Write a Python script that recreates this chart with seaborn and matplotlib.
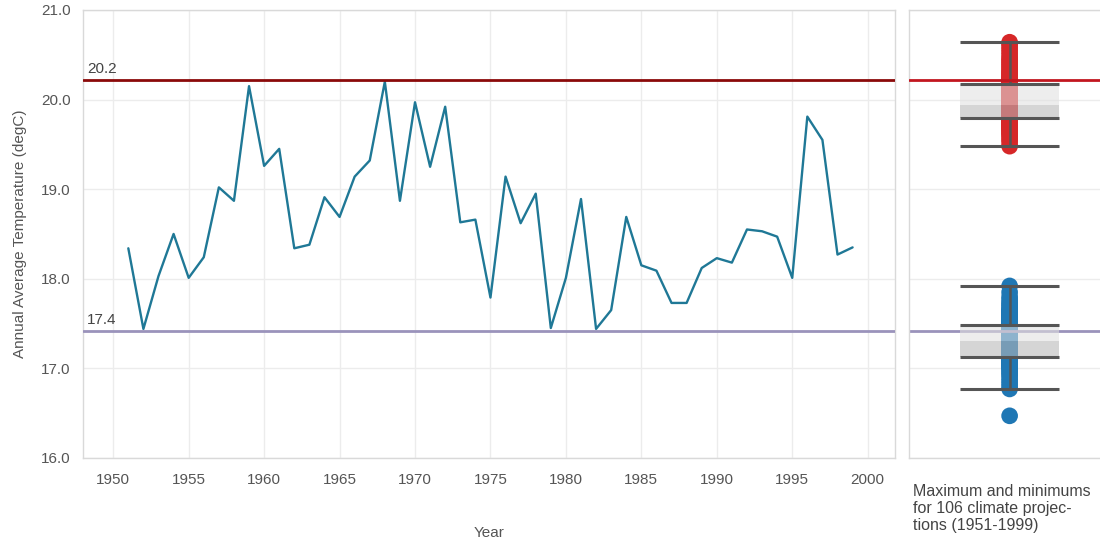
import numpy as np
import pandas as pd
import matplotlib
matplotlib.use("Agg")
import matplotlib.pyplot as plt
from matplotlib import cbook
import seaborn as sns

# Observed annual average temperature (degC)
years = list(range(1951, 2000))
temps = [
    18.34, 17.44, 18.03, 18.50, 18.01, 18.24, 19.02, 18.87, 20.15, 19.26,
    19.45, 18.34, 18.38, 18.91, 18.69, 19.14, 19.32, 20.20, 18.87, 19.97,
    19.25, 19.92, 18.63, 18.66, 17.79, 19.14, 18.62, 18.95, 17.45, 18.01,
    18.89, 17.44, 17.65, 18.69, 18.15, 18.09, 17.73, 17.73, 18.12, 18.23,
    18.18, 18.55, 18.53, 18.47, 18.01, 19.81, 19.55, 18.27, 18.35,
]

# Reference levels
upper_level = 20.22
lower_level = 17.42

# Maximum and minimum annual average of each of 106 climate projections
proj_max = [
    19.48, 19.52, 19.55, 19.57, 19.60, 19.61, 19.63, 19.64, 19.66, 19.67,
    19.68, 19.69, 19.70, 19.71, 19.72, 19.73, 19.73, 19.74, 19.75, 19.75,
    19.76, 19.77, 19.77, 19.78, 19.78, 19.79, 19.79,
    19.80, 19.81, 19.82, 19.83, 19.84, 19.85, 19.85, 19.86, 19.87, 19.88,
    19.88, 19.89, 19.89, 19.90, 19.90, 19.91, 19.91, 19.92, 19.92, 19.93,
    19.93, 19.93, 19.94, 19.94, 19.94, 19.94,
    19.94, 19.95, 19.97, 19.98, 19.99, 20.00, 20.01, 20.02, 20.03, 20.04,
    20.05, 20.06, 20.07, 20.08, 20.09, 20.10, 20.11, 20.12, 20.13, 20.13,
    20.14, 20.15, 20.15, 20.16, 20.16, 20.17,
    20.17, 20.18, 20.19, 20.20, 20.21, 20.22, 20.23, 20.24, 20.25, 20.27,
    20.28, 20.30, 20.31, 20.33, 20.35, 20.37, 20.39, 20.41, 20.43, 20.45,
    20.47, 20.50, 20.53, 20.56, 20.59, 20.62, 20.64,
]
proj_min = [
    16.47, 16.77, 16.80, 16.83, 16.86, 16.89, 16.92, 16.94, 16.96, 16.98,
    17.00, 17.01, 17.02, 17.03, 17.04, 17.05, 17.06, 17.07, 17.08, 17.08,
    17.09, 17.10, 17.10, 17.11, 17.11, 17.12, 17.12,
    17.13, 17.14, 17.15, 17.16, 17.17, 17.18, 17.19, 17.20, 17.21, 17.22,
    17.23, 17.23, 17.24, 17.25, 17.25, 17.26, 17.26, 17.27, 17.27, 17.28,
    17.28, 17.29, 17.29, 17.30, 17.30, 17.30,
    17.30, 17.31, 17.32, 17.33, 17.34, 17.35, 17.36, 17.37, 17.38, 17.39,
    17.40, 17.41, 17.42, 17.43, 17.43, 17.44, 17.44, 17.45, 17.45, 17.46,
    17.46, 17.47, 17.47, 17.47, 17.48, 17.48,
    17.48, 17.49, 17.50, 17.51, 17.52, 17.53, 17.54, 17.55, 17.56, 17.57,
    17.58, 17.59, 17.60, 17.61, 17.62, 17.63, 17.64, 17.65, 17.66, 17.68,
    17.70, 17.72, 17.74, 17.77, 17.80, 17.85, 17.92,
]

x_ticks = list(range(1950, 2001, 5))
y_ticks = [16.0, 17.0, 18.0, 19.0, 20.0, 21.0]

LINE = "#1f7896"
UPPER_DARK = "#8b0a0a"
UPPER_RIGHT = "#c2161f"
LOWER = "#9a93bb"
GRID = "#ececec"
SPINE = "#d9d9d9"
TEXT = "#555555"
BOXLINE = "#555555"

sns.set_theme(style="white")
plt.rcParams["font.family"] = ["Liberation Sans", "DejaVu Sans"]

fig = plt.figure(figsize=(11, 5.4), dpi=100)
ax = fig.add_axes([0.0755, 0.152, 0.738, 0.8295])
axr = fig.add_axes([0.8264, 0.152, 0.18, 0.8295])

# ---- main time series panel ----
obs = pd.DataFrame({"Year": years, "Temp": temps})
sns.lineplot(data=obs, x="Year", y="Temp", ax=ax, color=LINE, linewidth=1.7, zorder=3)

for level, col in [(upper_level, UPPER_DARK), (lower_level, LOWER)]:
    ax.axhline(level, color=col, linewidth=2.0, zorder=4)
    ax.annotate(f"{level:.1f}", xy=(0, level), xycoords=("axes fraction", "data"),
                xytext=(3, 3), textcoords="offset points", ha="left", va="bottom",
                fontsize=11, color="#444444")

ax.set_xlim(1948.0, 2001.8)
ax.set_ylim(16.0, 21.0)
ax.set_xticks(x_ticks)
ax.set_yticks(y_ticks)
ax.set_yticklabels([f"{v:.1f}" for v in y_ticks])
ax.grid(True, color=GRID, linewidth=1.0)
ax.set_axisbelow(True)
ax.tick_params(axis="both", colors=SPINE, labelcolor=TEXT, labelsize=11,
               length=5, width=1, direction="out", pad=4)
ax.tick_params(axis="x", pad=6)
ax.set_xlabel("Year", fontsize=11, color=TEXT, labelpad=28)
ax.set_ylabel("Annual Average Temperature (degC)", fontsize=11, color=TEXT, labelpad=10)
for s in ax.spines.values():
    s.set_color(SPINE)
    s.set_linewidth(1.0)

# ---- projection distribution panel ----
proj = pd.DataFrame({
    "grp": [""] * (len(proj_max) + len(proj_min)),
    "kind": ["max"] * len(proj_max) + ["min"] * len(proj_min),
    "Temp": proj_max + proj_min,
})
palette = {"max": "#d62728", "min": "#1f77b4"}

sns.stripplot(data=proj, x="grp", y="Temp", hue="kind", palette=palette,
              jitter=False, dodge=False, size=12, linewidth=0, alpha=1.0,
              legend=False, ax=axr, zorder=1)

# Two-tone box with whiskers (1.5 IQR), drawn over the points
half = 0.25
for vals in (proj_max, proj_min):
    st = cbook.boxplot_stats(np.asarray(vals), whis=1.5)[0]
    xs = [-half, half]
    axr.fill_between(xs, st["med"], st["q3"], color="#e0e0e0", alpha=0.58,
                     linewidth=0, zorder=3)
    axr.fill_between(xs, st["q1"], st["med"], color="#b8b8b8", alpha=0.58,
                     linewidth=0, zorder=3)
    axr.vlines(0, st["q3"], st["whishi"], color=BOXLINE, linewidth=1.8, zorder=4)
    axr.vlines(0, st["whislo"], st["q1"], color=BOXLINE, linewidth=1.8, zorder=4)
    axr.hlines([st["whislo"], st["q1"], st["q3"], st["whishi"]], -half, half,
               color=BOXLINE, linewidth=2.2, zorder=4)

axr.axhline(upper_level, color=UPPER_RIGHT, linewidth=2.0, zorder=5)
axr.axhline(lower_level, color=LOWER, linewidth=2.0, zorder=2)

axr.set_xlim(-0.508, 0.492)
axr.set_ylim(16.0, 21.0)
axr.set_yticks(y_ticks)
axr.set_yticklabels([])
axr.set_xticks([])
axr.set_xlabel("")
axr.set_ylabel("")
axr.grid(True, axis="y", color=GRID, linewidth=1.0)
axr.set_axisbelow(True)
axr.tick_params(axis="y", length=0)
for name, s in axr.spines.items():
    s.set_color(SPINE)
    s.set_linewidth(1.0)
axr.spines["right"].set_visible(False)

fig.text(0.830, 0.104, "Maximum and minimums\nfor 106 climate projec-\ntions (1951-1999)",
         ha="left", va="top", fontsize=11.5, color="#444444", linespacing=1.17)

fig.savefig("out.png", dpi=100)
